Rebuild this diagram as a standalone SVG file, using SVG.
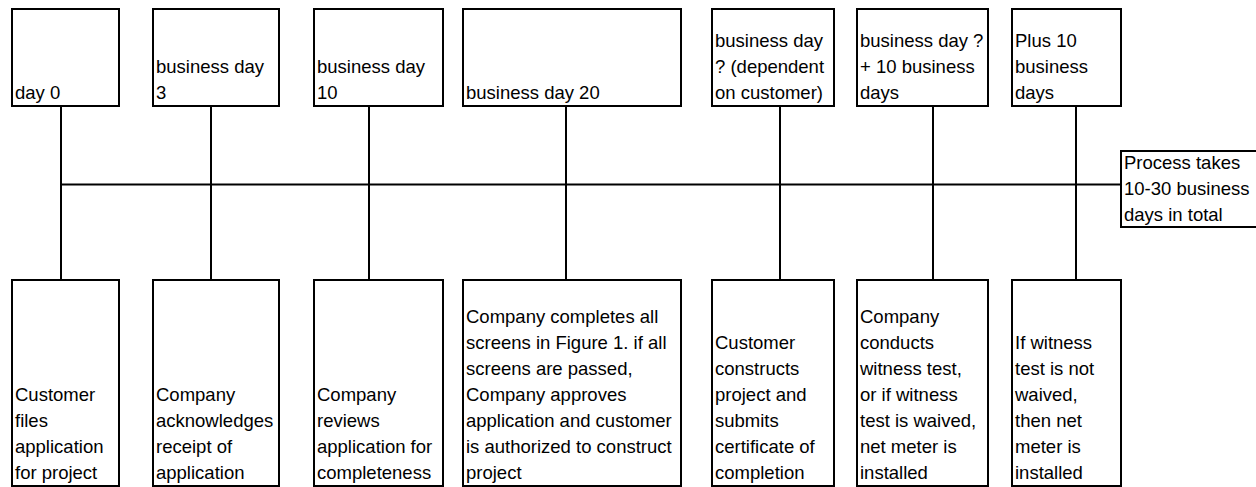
<svg xmlns="http://www.w3.org/2000/svg" width="1256" height="487" viewBox="0 0 1256 487">
  <style>
    .box { fill: #ffffff; stroke: #000000; stroke-width: 2; }
    .lbl { font-family: "Liberation Sans", Arial, sans-serif; font-size: 18.5px; fill: #000000; }
    .wire { stroke: #000000; stroke-width: 2; fill: none; }
  </style>
  <rect x="0" y="0" width="1256" height="487" fill="#ffffff"/>

  <!-- timeline spine and drops -->
  <g id="connectors">
    <line class="wire" x1="61" y1="184.5" x2="1121" y2="184.5"/>
    <line class="wire" x1="61" y1="106" x2="61" y2="280"/>
    <line class="wire" x1="211" y1="106" x2="211" y2="280"/>
    <line class="wire" x1="369" y1="106" x2="369" y2="280"/>
    <line class="wire" x1="566" y1="106" x2="566" y2="280"/>
    <line class="wire" x1="780" y1="106" x2="780" y2="280"/>
    <line class="wire" x1="933" y1="106" x2="933" y2="280"/>
    <line class="wire" x1="1076" y1="106" x2="1076" y2="280"/>
  </g>

  <!-- milestone headers -->
  <g id="day0">
    <rect class="box" x="12" y="9" width="107" height="97"/>
    <text class="lbl" x="15" y="99">day 0</text>
  </g>
  <g id="day3">
    <rect class="box" x="153" y="9" width="126" height="97"/>
    <text class="lbl" x="156"><tspan x="156" y="73">business day</tspan><tspan x="156" y="99">3</tspan></text>
  </g>
  <g id="day10">
    <rect class="box" x="314" y="9" width="129" height="97"/>
    <text class="lbl"><tspan x="317" y="73">business day</tspan><tspan x="317" y="99">10</tspan></text>
  </g>
  <g id="day20">
    <rect class="box" x="463" y="9" width="218" height="97"/>
    <text class="lbl" x="466" y="99">business day 20</text>
  </g>
  <g id="dayCustomer">
    <rect class="box" x="712" y="9" width="122" height="97"/>
    <text class="lbl"><tspan x="715" y="47">business day</tspan><tspan x="715" y="73">? (dependent</tspan><tspan x="715" y="99">on customer)</tspan></text>
  </g>
  <g id="dayPlus10">
    <rect class="box" x="857" y="9" width="131" height="97"/>
    <text class="lbl"><tspan x="860" y="47">business day ?</tspan><tspan x="860" y="73">+ 10 business</tspan><tspan x="860" y="99">days</tspan></text>
  </g>
  <g id="dayPlus10b">
    <rect class="box" x="1012" y="9" width="109" height="97"/>
    <text class="lbl"><tspan x="1015" y="47">Plus 10</tspan><tspan x="1015" y="73">business</tspan><tspan x="1015" y="99">days</tspan></text>
  </g>

  <!-- total duration note -->
  <g id="total">
    <rect class="box" x="1121" y="151" width="140" height="76"/>
    <text class="lbl"><tspan x="1124" y="169">Process takes</tspan><tspan x="1124" y="195">10-30 business</tspan><tspan x="1124" y="221">days in total</tspan></text>
  </g>

  <!-- step descriptions -->
  <g id="stepFile">
    <rect class="box" x="12" y="280" width="107" height="206"/>
    <text class="lbl"><tspan x="15" y="401">Customer</tspan><tspan x="15" y="427">files</tspan><tspan x="15" y="453">application</tspan><tspan x="15" y="479">for project</tspan></text>
  </g>
  <g id="stepAck">
    <rect class="box" x="153" y="280" width="126" height="206"/>
    <text class="lbl"><tspan x="156" y="401">Company</tspan><tspan x="156" y="427">acknowledges</tspan><tspan x="156" y="453">receipt of</tspan><tspan x="156" y="479">application</tspan></text>
  </g>
  <g id="stepReview">
    <rect class="box" x="314" y="280" width="129" height="206"/>
    <text class="lbl"><tspan x="317" y="401">Company</tspan><tspan x="317" y="427">reviews</tspan><tspan x="317" y="453">application for</tspan><tspan x="317" y="479">completeness</tspan></text>
  </g>
  <g id="stepScreens">
    <rect class="box" x="463" y="280" width="218" height="206"/>
    <text class="lbl"><tspan x="466" y="323">Company completes all</tspan><tspan x="466" y="349">screens in Figure 1. if all</tspan><tspan x="466" y="375">screens are passed,</tspan><tspan x="466" y="401">Company approves</tspan><tspan x="466" y="427">application and customer</tspan><tspan x="466" y="453">is authorized to construct</tspan><tspan x="466" y="479">project</tspan></text>
  </g>
  <g id="stepConstruct">
    <rect class="box" x="712" y="280" width="122" height="206"/>
    <text class="lbl"><tspan x="715" y="349">Customer</tspan><tspan x="715" y="375">constructs</tspan><tspan x="715" y="401">project and</tspan><tspan x="715" y="427">submits</tspan><tspan x="715" y="453">certificate of</tspan><tspan x="715" y="479">completion</tspan></text>
  </g>
  <g id="stepWitness">
    <rect class="box" x="857" y="280" width="131" height="206"/>
    <text class="lbl"><tspan x="860" y="323">Company</tspan><tspan x="860" y="349">conducts</tspan><tspan x="860" y="375">witness test,</tspan><tspan x="860" y="401">or if witness</tspan><tspan x="860" y="427">test is waived,</tspan><tspan x="860" y="453">net meter is</tspan><tspan x="860" y="479">installed</tspan></text>
  </g>
  <g id="stepMeter">
    <rect class="box" x="1012" y="280" width="109" height="206"/>
    <text class="lbl"><tspan x="1015" y="349">If witness</tspan><tspan x="1015" y="375">test is not</tspan><tspan x="1015" y="401">waived,</tspan><tspan x="1015" y="427">then net</tspan><tspan x="1015" y="453">meter is</tspan><tspan x="1015" y="479">installed</tspan></text>
  </g>
</svg>
